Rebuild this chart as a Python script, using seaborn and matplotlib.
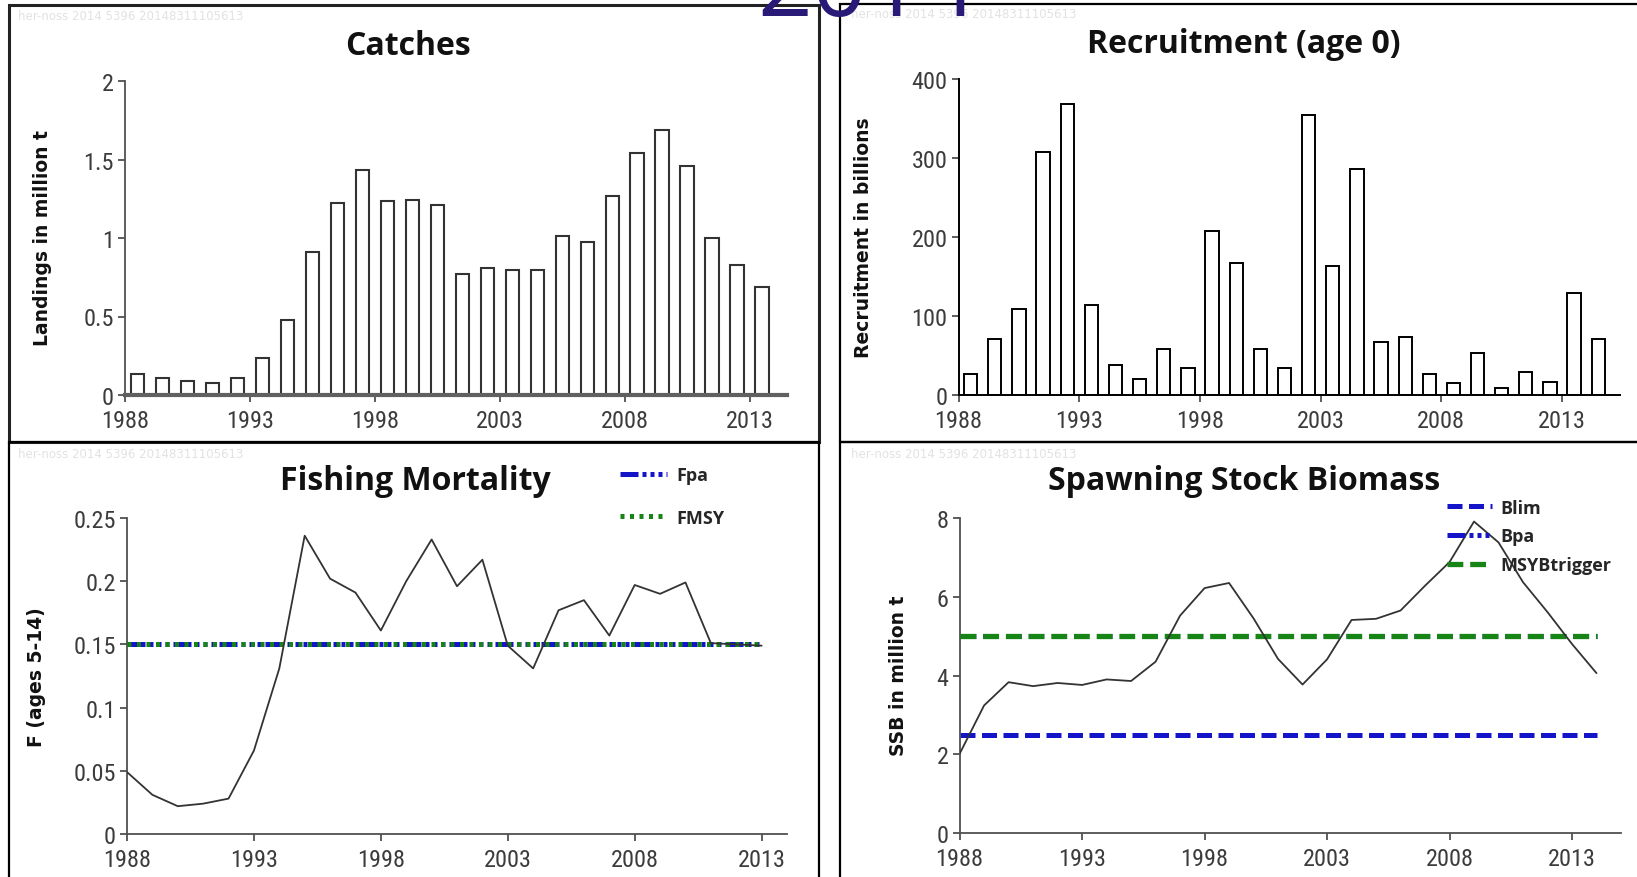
import numpy as np
import pandas as pd
import matplotlib
matplotlib.use("Agg")
import matplotlib.pyplot as plt
from matplotlib import font_manager
from matplotlib.patches import Rectangle
from matplotlib.ticker import FuncFormatter
import seaborn as sns

# ---- data ----
catch_years = list(range(1988, 2014))
catches = [0.134, 0.106, 0.091, 0.076, 0.106, 0.233, 0.479, 0.908, 1.22, 1.43,
           1.234, 1.243, 1.209, 0.77, 0.812, 0.797, 0.797, 1.01, 0.976, 1.268,
           1.544, 1.686, 1.459, 0.997, 0.829, 0.685]

rec_years = list(range(1988, 2015))
recruitment = [27, 71, 109, 308, 368, 114, 38, 20, 58, 34, 207, 167, 58, 34,
               355, 163, 286, 67, 73, 27, 15, 53, 9, 29, 17, 129, 71]

f_years = list(range(1988, 2014))
fishing_mort = [0.049, 0.031, 0.022, 0.024, 0.028, 0.066, 0.131, 0.236, 0.202,
                0.191, 0.161, 0.200, 0.233, 0.196, 0.217, 0.149, 0.131, 0.177,
                0.185, 0.157, 0.197, 0.190, 0.199, 0.151, 0.150, 0.149]

ssb_years = list(range(1988, 2015))
ssb = [2.01, 3.24, 3.83, 3.73, 3.81, 3.76, 3.90, 3.86, 4.35, 5.52, 6.22, 6.35,
       5.45, 4.42, 3.77, 4.41, 5.41, 5.44, 5.65, 6.28, 6.88, 7.91, 7.38, 6.37,
       5.61, 4.80, 4.06]

FPA = 0.15
FMSY = 0.15
BLIM = 2.5
BPA = 5.0
MSY_BTRIGGER = 5.0

xtick_years = list(range(1988, 2014, 5))

W, H = 1637, 878
BLUE = "#1414c8"
GREEN = "#168516"
DASH_DOT3 = (3.6, 0.8, 0.8, 0.8, 0.8, 0.8, 0.8, 0.8)


def pick_font(cands):
    names = {f.name for f in font_manager.fontManager.ttflist}
    for c in cands:
        if c in names:
            return c
    return "DejaVu Sans"


sns.set_style("ticks")
TICK_FONT = pick_font(["Liberation Sans Narrow", "Roboto Condensed", "DejaVu Sans"])
TITLE_FONT = pick_font(["Open Sans", "Lato", "DejaVu Sans"])
plt.rcParams["font.family"] = [TICK_FONT, "DejaVu Sans"]

fig = plt.figure(figsize=(W / 100, H / 100), dpi=100)


def box(x0, y0, x1, y1, lw=1.6, ec="black"):
    # rectangle given in pixel coords from the top-left corner
    fig.add_artist(Rectangle((x0 / W, 1 - y1 / H), (x1 - x0) / W, (y1 - y0) / H,
                             transform=fig.transFigure, fill=False, ec=ec, lw=lw))


def axes_px(left, top, right, bottom):
    return fig.add_axes([left / W, 1 - bottom / H, (right - left) / W, (bottom - top) / H])


def style_axis(ax, spine_color="#505050", spine_lw=1.3):
    sns.despine(ax=ax)
    for s in ("left", "bottom"):
        ax.spines[s].set_color(spine_color)
        ax.spines[s].set_linewidth(spine_lw)
    ax.tick_params(labelsize=17.5, labelcolor="#3c3c3c", color="#505050",
                   length=5, width=1.3)
    ax.tick_params(axis="x", pad=5)
    ax.tick_params(axis="y", pad=3)
    ax.yaxis.set_major_formatter(FuncFormatter(lambda v, p: f"{v:g}"))
    ax.set_xticks(xtick_years)
    ax.set_xlabel("")
    ax.set_ylabel("")


def panel_title(x, y, text):
    fig.text(x / W, 1 - y / H, text, ha="center", va="baseline", fontsize=23,
             fontweight="bold", family=TITLE_FONT, color="#111111")


def ylab(x, y, text):
    fig.text(x / W, 1 - y / H, text, ha="center", va="center", rotation=90,
             fontsize=13.5, fontweight="bold", family="DejaVu Sans", color="#111111")


def watermark(x, y):
    fig.text(x / W, 1 - y / H, "her-noss 2014 5396 20148311105613", fontsize=8.5,
             family="DejaVu Sans", color="#e2e2e2", ha="left", va="center")


# panel frames
box(9, 6, 819, 443, lw=2.2, ec="#222222")
box(840, 5, 1660, 443)
box(9, 443, 819, 900)
box(840, 443, 1660, 900)
for wx, wy in [(18, 16), (851, 15), (18, 455), (851, 455)]:
    watermark(wx, wy)

# ---- Catches ----
ax_c = axes_px(125, 82, 787, 396)
df_c = pd.DataFrame({"mid": np.array(catch_years) + 0.5, "catch": catches})
sns.barplot(data=df_c, x="mid", y="catch", native_scale=True, width=0.53,
            color="white", saturation=1, edgecolor="#333333", linewidth=1.5,
            errorbar=None, ax=ax_c)
ax_c.set_xlim(1988, 2014.5)
ax_c.set_ylim(0, 2)
ax_c.set_yticks([0, 0.5, 1, 1.5, 2])
style_axis(ax_c)
ax_c.spines["bottom"].set_linewidth(3)
ax_c.spines["bottom"].set_color("#606060")
panel_title(408, 55, "Catches")
ylab(43, 238, "Landings in million t")

# ---- Recruitment ----
ax_r = axes_px(958.6, 80, 1620, 396)
df_r = pd.DataFrame({"mid": np.array(rec_years) + 0.5, "rec": recruitment})
sns.barplot(data=df_r, x="mid", y="rec", native_scale=True, width=0.55,
            color="white", saturation=1, edgecolor="black", linewidth=1.4,
            errorbar=None, ax=ax_r)
ax_r.set_xlim(1988, 2015.4)
ax_r.set_ylim(0, 400)
ax_r.set_yticks([0, 100, 200, 300, 400])
style_axis(ax_r, spine_color="black", spine_lw=1.4)
panel_title(1244, 53, "Recruitment (age 0)")
ylab(864, 238, "Recruitment in billions")

# ---- Fishing mortality ----
ax_f = axes_px(127, 519, 787, 835)
sns.lineplot(x=f_years, y=fishing_mort, color="#333333", linewidth=1.3,
             ax=ax_f, zorder=4)
fpa_line, = ax_f.plot([f_years[0], f_years[-1]], [FPA, FPA], color=BLUE,
                      linewidth=3.6, dashes=DASH_DOT3, solid_capstyle="butt",
                      dash_capstyle="butt", zorder=2, label="Fpa")
fmsy_line, = ax_f.plot([f_years[0], f_years[-1]], [FMSY, FMSY], color=GREEN,
                       linewidth=3.6, dashes=(0.8, 1.1), dash_capstyle="butt",
                       zorder=3, label="FMSY")
ax_f.set_xlim(1988, 2014.0)
ax_f.set_ylim(0, 0.25)
ax_f.set_yticks([0, 0.05, 0.1, 0.15, 0.2, 0.25])
style_axis(ax_f)
panel_title(415, 490, "Fishing Mortality")
ylab(37, 677, "F (ages 5-14)")
ax_f.legend(handles=[fpa_line, fmsy_line], loc="center left",
            bbox_to_anchor=(620 / W, 1 - 497.5 / H), bbox_transform=fig.transFigure,
            frameon=False, borderpad=0, borderaxespad=0, handlelength=2.6,
            handletextpad=0.55, labelspacing=1.35,
            prop={"family": TITLE_FONT, "weight": "bold", "size": 13})

# ---- Spawning stock biomass ----
ax_s = axes_px(959.6, 519, 1621, 834)
sns.lineplot(x=ssb_years, y=ssb, color="#333333", linewidth=1.3, ax=ax_s, zorder=4)
blim_line, = ax_s.plot([ssb_years[0], ssb_years[-1]], [BLIM, BLIM], color=BLUE,
                       linewidth=3.6, dashes=(3, 1.3), dash_capstyle="butt",
                       zorder=2, label="Blim")
bpa_line, = ax_s.plot([ssb_years[0], ssb_years[-1]], [BPA, BPA], color=BLUE,
                      linewidth=3.6, dashes=DASH_DOT3, dash_capstyle="butt",
                      zorder=2, label="Bpa")
msy_line, = ax_s.plot([ssb_years[0], ssb_years[-1]], [MSY_BTRIGGER, MSY_BTRIGGER],
                      color=GREEN, linewidth=3.8, dashes=(3, 1.3), gapcolor="white",
                      dash_capstyle="butt", zorder=3, label="MSYBtrigger")
ax_s.set_xlim(1988, 2015.0)
ax_s.set_ylim(0, 8)
ax_s.set_yticks([0, 2, 4, 6, 8])
style_axis(ax_s)
panel_title(1244, 490, "Spawning Stock Biomass")
ylab(899, 676, "SSB in million t")
ax_s.legend(handles=[blim_line, bpa_line, msy_line], loc="center left",
            bbox_to_anchor=(1447 / W, 1 - 537.5 / H), bbox_transform=fig.transFigure,
            frameon=False, borderpad=0, borderaxespad=0, handlelength=2.5,
            handletextpad=0.45, labelspacing=0.6,
            prop={"family": TITLE_FONT, "weight": "bold", "size": 13})

# big year label cut off by the top edge
fig.text(867 / W, 1 - 16 / H, "2014", ha="center", va="baseline", fontsize=69,
         family=TITLE_FONT, color="#2a1a78")

fig.savefig("out.png", dpi=100)
